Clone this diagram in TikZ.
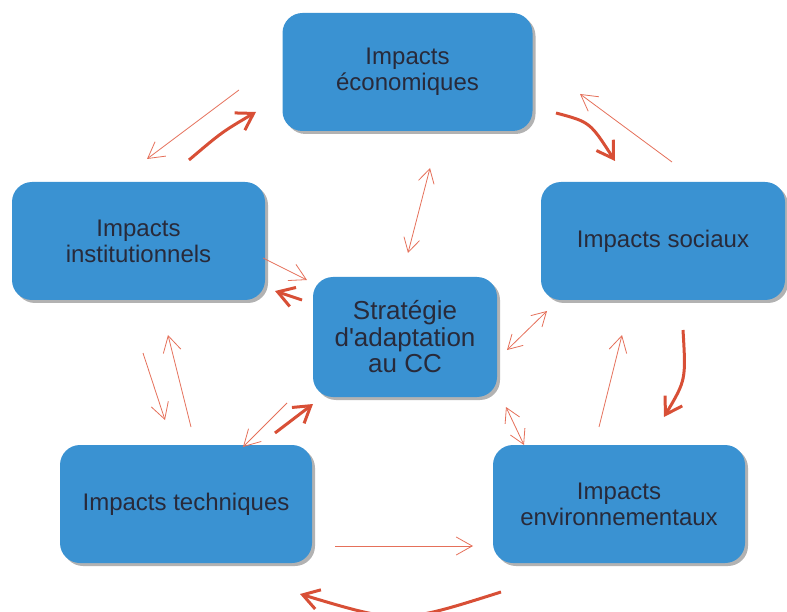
\documentclass[tikz,border=0pt]{standalone}
\usepackage{fontspec}
\setmainfont{Liberation Sans}
\usetikzlibrary{arrows.meta, shadows}

\definecolor{boxblue}{RGB}{58,146,210}
\definecolor{boxtext}{RGB}{40,42,58}
\definecolor{thinred}{RGB}{229,112,90}
\definecolor{thickred}{RGB}{216,79,54}

\tikzset{
  impact/.style={draw=none, fill=boxblue, rounded corners=20pt, align=center,
    text=boxtext, font=\fontsize{24}{26}\selectfont,
    minimum width=250pt, minimum height=118pt, inner sep=0pt,
    drop shadow={shadow xshift=3pt, shadow yshift=-3pt, fill=black, opacity=0.3}},
  thinarrow/.style={draw=thinred, line width=0.8pt,
    -{Straight Barb[length=16pt, width=18pt, line width=0.8pt]}},
  thinboth/.style={draw=thinred, line width=0.8pt,
    {Straight Barb[length=14pt, width=16pt, line width=0.8pt]}-{Straight Barb[length=14pt, width=16pt, line width=0.8pt]}},
  thickarrow/.style={draw=thickred, line width=3pt,
    -{Straight Barb[length=16pt, width=20pt, line width=3pt]}}
}

\begin{document}
\begin{tikzpicture}[x=1pt, y=-1pt]
        \useasboundingbox (0,0) rectangle (787,612);

        % Boxes
        \node[impact] (eco) at (407.5,72) {Impacts\\économiques};
        \node[impact, minimum width=244pt] (soc) at (663,241) {Impacts sociaux};
        \node[impact, minimum width=253pt] (inst) at (138.5,241) {Impacts\\institutionnels};
        \node[impact, minimum width=252pt] (tech) at (186,504) {Impacts techniques};
        \node[impact, minimum width=252pt] (env) at (619,504) {Impacts\\environnementaux};
        \node[impact, minimum width=184pt, minimum height=120pt,
              font=\fontsize{26}{26.5}\selectfont] (strat) at (405,337) {Stratégie\\d\textquotesingle adaptation\\au CC};

        % Arrow ends
        \coordinate (ei1) at (239,90);  \coordinate (ei2) at (147,159);
        \coordinate (ei3) at (189,160); \coordinate (ei4) at (256,112);
        \coordinate (se1) at (672,162); \coordinate (se2) at (580,94);
        \coordinate (se3) at (556,113); \coordinate (se4) at (615,161);
        \coordinate (ve1) at (599,427); \coordinate (ve2) at (622,335);
        \coordinate (ve3) at (683,330); \coordinate (ve4) at (664,417);
        \coordinate (te1) at (335,546); \coordinate (te2) at (473,546);
        \coordinate (te3) at (501,592); \coordinate (te4) at (300,594);
        \coordinate (ti1) at (143,353); \coordinate (ti2) at (165,420);
        \coordinate (ti3) at (191,427); \coordinate (ti4) at (168,335);
        \coordinate (ts1) at (287,403); \coordinate (ts2) at (243,447);
        \coordinate (ts3) at (275,433); \coordinate (ts4) at (313,404);
        \coordinate (is1) at (263,258); \coordinate (is2) at (307,280);
        \coordinate (is3) at (302,300); \coordinate (is4) at (275,291);
        \coordinate (es1) at (430,168); \coordinate (es2) at (408,253);
        \coordinate (ss1) at (547,311); \coordinate (ss2) at (507,350);
        \coordinate (vs1) at (506,407); \coordinate (vs2) at (524,445);

        % Cycle round the strategy
        \draw[thinarrow] (ei1) -- (ei2);
        \draw[thickarrow] (ei3) .. controls (222,132) .. (ei4);
        \draw[thinarrow] (se1) -- (se2);
        \draw[thickarrow] (se3) .. controls (590,122) .. (se4);
        \draw[thinarrow] (ve1) -- (ve2);
        \draw[thickarrow] (ve3) .. controls (686,380) .. (ve4);
        \draw[thinarrow] (te1) -- (te2);
        \draw[thickarrow] (te3) .. controls (400,624) .. (te4);
        \draw[thinarrow] (ti1) -- (ti2);
        \draw[thinarrow] (ti3) -- (ti4);

        % Links with the strategy
        \draw[thinarrow] (ts1) -- (ts2);
        \draw[thickarrow] (ts3) -- (ts4);
        \draw[thinarrow] (is1) -- (is2);
        \draw[thickarrow] (is3) -- (is4);
        \draw[thinboth] (es1) -- (es2);
        \draw[thinboth] (ss1) -- (ss2);
        \draw[thinboth] (vs1) -- (vs2);
    \end{tikzpicture}
\end{document}
